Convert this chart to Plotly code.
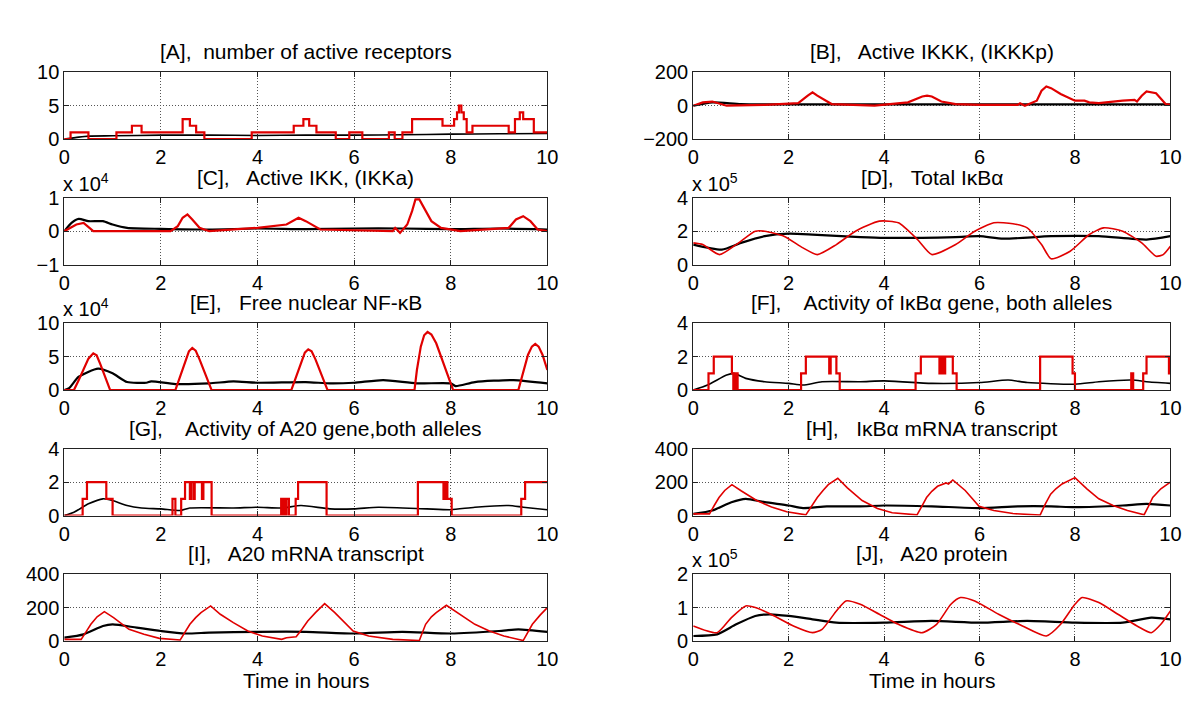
import plotly.graph_objects as go

# ---------------- data ----------------
# [A] number of active receptors
A_red_t = [0, 0.13, 0.5, 1.08, 1.4, 1.6, 2.45, 2.6, 2.73, 2.9, 3.88, 4.75, 4.95, 5.07, 5.22, 5.62, 5.9, 6.17,
           6.72, 6.84, 7.0, 7.2, 7.83, 8.07, 8.13, 8.17, 8.22, 8.27, 8.33, 8.45, 9.2, 9.33, 9.43, 9.5, 9.72, 10]
A_red_v = [0, 1, 0, 1, 2, 1, 3, 2, 1, 0, 1, 2, 3, 2, 1, 0, 1, 0,
           1, 0, 1, 3, 2, 3, 4, 5, 4, 3, 1, 2, 1, 3, 4, 3, 1, 1]
A_blk_t = [0, 0.3, 0.5, 1, 2, 3, 4, 5, 6, 7, 8, 9, 10]
A_blk_v = [0, 0.3, 0.45, 0.5, 0.6, 0.6, 0.55, 0.6, 0.6, 0.65, 0.75, 0.8, 0.85]

# [B] Active IKKK
B_red_t = [0, 0.2, 0.4, 0.7, 1.5, 2.2, 2.4, 2.5, 2.6, 2.9, 3.8, 4.5, 4.8, 4.9, 5.0, 5.2, 5.5, 6.0, 6.8, 6.85,
           6.95, 7.2, 7.3, 7.4, 7.5, 7.7, 8.0, 8.2, 8.3, 8.5, 9.0, 9.25, 9.3, 9.4, 9.5, 9.7, 9.9, 10]
B_red_v = [0, 20, 25, 0, 5, 15, 60, 80, 60, 10, 0, 20, 55, 60, 55, 25, 10, 5, 5, 15,
           0, 30, 90, 115, 105, 70, 30, 30, 20, 15, 30, 35, 25, 60, 85, 75, 10, 5]
B_blk_t = [0, 0.4, 1, 2, 3, 4, 5, 6, 7, 8, 9, 10]
B_blk_v = [0, 20, 10, 8, 8, 8, 8, 8, 8, 8, 8, 8]

# [C] Active IKK (x 10^4)
C_red_t = [0, 0.25, 0.4, 0.6, 2.2, 2.35, 2.45, 2.55, 2.65, 2.8, 3.0, 4.0, 4.6, 4.85, 5.0, 5.3, 6.8, 6.85, 6.95,
           7.1, 7.2, 7.27, 7.35, 7.45, 7.6, 7.8, 8.2, 9.2, 9.35, 9.5, 9.65, 9.8, 10]
C_red_v = [0, 0.2, 0.25, 0, 0, 0.15, 0.4, 0.5, 0.35, 0.1, 0, 0.1, 0.2, 0.4, 0.3, 0.05, 0, 0.1, -0.05,
           0.2, 0.6, 0.95, 0.95, 0.7, 0.3, 0.1, 0, 0.1, 0.35, 0.45, 0.3, 0.05, 0]
C_blk_t = [0, 0.15, 0.3, 0.5, 0.8, 1.0, 1.3, 2, 3, 4, 5, 6, 7, 8, 9, 10]
C_blk_v = [0, 0.25, 0.37, 0.3, 0.3, 0.2, 0.1, 0.07, 0.05, 0.08, 0.06, 0.08, 0.08, 0.06, 0.08, 0.05]

# [D] Total IkBa (x 10^5)
D_red_t = [0, 0.2, 0.55, 0.9, 1.3, 1.5, 1.9, 2.3, 2.6, 3.0, 3.4, 3.9, 4.3, 4.7, 5.0, 5.5, 5.9, 6.3, 6.7,
           7.0, 7.3, 7.5, 7.9, 8.3, 8.6, 9.0, 9.4, 9.7, 9.85, 10]
D_red_v = [1.3, 1.2, 0.6, 1.2, 2.0, 2.0, 1.7, 1.0, 0.6, 1.2, 2.0, 2.6, 2.5, 1.5, 0.6, 1.2, 2.0, 2.5, 2.45,
           2.2, 1.2, 0.35, 0.8, 1.8, 2.2, 2.0, 1.3, 0.5, 0.6, 1.1]
D_blk_t = [0, 0.6, 1.0, 1.5, 2.0, 2.5, 3.5, 4.0, 5.5, 6.0, 6.5, 7.5, 8.5, 9.5, 10]
D_blk_v = [1.2, 0.9, 1.3, 1.7, 1.85, 1.8, 1.65, 1.6, 1.65, 1.7, 1.55, 1.7, 1.7, 1.5, 1.7]

# [E] Free nuclear NF-kB (x 10^4)
E_red_t = [0, 0.2, 0.3, 0.4, 0.5, 0.6, 0.67, 0.75, 0.85, 0.95,
           2.3, 2.4, 2.5, 2.58, 2.65, 2.72, 2.8, 2.93, 3.05,
           4.7, 4.8, 4.9, 4.98, 5.05, 5.12, 5.2, 5.33, 5.45,
           7.25, 7.3, 7.38, 7.45, 7.52, 7.6, 7.7, 7.85, 8.05,
           9.4, 9.5, 9.6, 9.68, 9.75, 9.82, 9.9, 10]
E_red_v = [0, 0, 1.5, 3.2, 4.7, 5.5, 5.2, 3.8, 1.8, 0,
           0, 2.0, 4.3, 5.8, 6.3, 5.9, 4.6, 2.3, 0,
           0, 2.0, 4.3, 5.6, 6.1, 5.8, 4.6, 2.3, 0,
           0, 3.0, 6.5, 8.2, 8.7, 8.3, 7.0, 4.0, 0,
           0, 2.5, 5.3, 6.5, 6.9, 6.5, 5.3, 3.0]
E_blk_t = [0, 0.1, 0.3, 0.7, 1.0, 1.3, 1.7, 1.8, 2.3, 3.0, 3.5, 4.0, 5.0, 5.5, 6.0, 6.6, 7.3, 8.0, 8.1, 8.5, 9.3, 10]
E_blk_v = [0, 0.3, 2.0, 3.2, 2.5, 1.2, 1.1, 1.3, 0.9, 1.0, 1.3, 1.1, 1.2, 1.0, 1.1, 1.5, 1.0, 1.0, 0.6, 1.2, 1.5, 1.0]

# [F] Activity of IkBa gene
F_red_t = [0, 0.32, 0.43, 0.81, 0.84, 0.86, 0.88, 0.9, 0.93, 2.26, 2.36, 2.85, 2.88, 3.0, 3.07, 4.66, 4.77,
           5.16, 5.18, 5.2, 5.23, 5.25, 5.28, 5.44, 5.52, 7.27, 7.95, 8.0, 9.18, 9.22, 9.43, 9.5, 9.97, 10]
F_red_v = [0, 1, 2, 1, 0, 1, 0, 1, 0, 1, 2, 1, 2, 1, 0, 1, 2,
           1, 2, 1, 2, 1, 2, 1, 0, 2, 1, 0, 1, 0, 1, 2, 1, 1]
F_blk_t = [0, 0.3, 0.7, 0.85, 1.1, 1.5, 2.0, 2.3, 2.7, 3.5, 4.0, 5.0, 6.0, 6.6, 7.0, 8.0, 8.5, 9.2, 9.5, 10]
F_blk_v = [0, 0.3, 0.9, 1.0, 0.7, 0.5, 0.4, 0.3, 0.5, 0.5, 0.55, 0.4, 0.45, 0.6, 0.45, 0.35, 0.5, 0.6, 0.5, 0.4]

# [G] Activity of A20 gene
G_red_t = [0, 0.38, 0.47, 0.87, 1.0, 2.24, 2.3, 2.42, 2.5, 2.6, 2.63, 2.68, 2.7, 2.85, 2.88, 3.05, 4.49, 4.52,
           4.54, 4.57, 4.6, 4.65, 4.79, 4.84, 5.43, 7.32, 7.85, 7.87, 7.89, 7.91, 7.93, 8.02, 9.46, 9.54, 10]
G_red_v = [0, 1, 2, 1, 0, 1, 0, 1, 2, 1, 2, 1, 2, 1, 2, 0, 1, 0,
           1, 0, 1, 0, 1, 2, 0, 2, 1, 2, 1, 2, 1, 0, 1, 2, 2]
G_blk_t = [0, 0.2, 0.5, 0.8, 1.0, 1.3, 1.6, 2.0, 2.4, 2.6, 3.5, 4.0, 4.5, 4.9, 5.5, 6.0, 6.5, 7.5, 8.0, 8.5, 9.2, 9.5, 10]
G_blk_v = [0, 0.2, 0.7, 1.0, 0.9, 0.6, 0.45, 0.4, 0.3, 0.45, 0.45, 0.5, 0.45, 0.6, 0.4, 0.4, 0.5, 0.4, 0.35, 0.5, 0.6, 0.5, 0.35]

# [H] IkBa mRNA transcript
H_red_t = [0, 0.34, 0.44, 0.54, 0.66, 0.81, 1.01, 1.33, 1.64, 1.96, 2.36, 2.48, 2.6, 2.72, 2.83, 3.03, 3.23,
           3.54, 3.86, 4.17, 4.69, 4.79, 4.89, 5.0, 5.12, 5.3, 5.35, 5.44, 5.7, 5.99, 6.3, 6.7, 7.0, 7.27,
           7.38, 7.49, 7.6, 7.73, 8.0, 8.25, 8.5, 8.8, 9.1, 9.45, 9.54, 9.63, 9.8, 10]
H_red_v = [10, 10, 60, 108, 150, 185, 147, 90, 51, 23, 4, 55, 108, 150, 185, 223, 166,
           90, 42, 17, 4, 55, 108, 145, 175, 195, 189, 213, 150, 55, 30, 12, 5, 3,
           70, 128, 160, 189, 227, 160, 100, 60, 30, 5, 55, 108, 160, 200]
H_blk_t = [0, 0.4, 0.8, 1.1, 1.5, 2.0, 2.3, 2.8, 3.5, 4.0, 5.0, 6.0, 6.8, 7.5, 8.0, 9.0, 9.5, 10]
H_blk_v = [10, 30, 80, 100, 80, 60, 45, 55, 55, 60, 55, 45, 55, 55, 50, 60, 70, 60]

# [I] A20 mRNA transcript
I_red_t = [0, 0.35, 0.45, 0.55, 0.68, 0.83, 1.02, 1.34, 1.65, 1.97, 2.4, 2.5, 2.6, 2.72, 2.83, 3.03, 3.23,
           3.5, 3.8, 4.1, 4.5, 4.6, 4.8, 4.92, 5.04, 5.2, 5.39, 5.6, 5.98, 6.3, 6.8, 7.35, 7.42, 7.48,
           7.6, 7.7, 7.91, 8.2, 8.5, 8.8, 9.1, 9.5, 9.6, 9.69, 9.85, 10]
I_red_v = [10, 10, 55, 100, 145, 176, 140, 70, 40, 16, 6, 50, 100, 140, 170, 210, 160,
           110, 60, 30, 10, 20, 25, 70, 120, 170, 224, 170, 60, 30, 10, 3, 50, 100,
           145, 170, 214, 160, 100, 60, 30, 3, 50, 100, 155, 200]
I_blk_t = [0, 0.4, 0.8, 1.0, 1.5, 2.0, 2.5, 3.0, 4.0, 5.0, 6.0, 7.0, 8.0, 9.0, 9.4, 10]
I_blk_v = [20, 40, 90, 100, 80, 60, 45, 50, 55, 55, 45, 55, 45, 60, 70, 55]

# [J] A20 protein (x 10^5)
J_red_t = [0, 0.5, 0.8, 1.1, 1.3, 1.7, 2.1, 2.5, 2.7, 3.0, 3.2, 3.5, 3.9, 4.3, 4.8, 5.1, 5.4, 5.6, 5.9,
           6.4, 6.9, 7.4, 7.7, 8.0, 8.15, 8.5, 8.9, 9.3, 9.6, 9.8, 10]
J_red_v = [0.45, 0.25, 0.7, 1.05, 1.0, 0.75, 0.45, 0.25, 0.35, 0.9, 1.2, 1.1, 0.8, 0.5, 0.25, 0.5, 1.1, 1.3, 1.2,
           0.8, 0.45, 0.15, 0.5, 1.1, 1.3, 1.15, 0.8, 0.45, 0.25, 0.5, 0.9]
J_blk_t = [0, 0.5, 0.9, 1.3, 1.6, 2.0, 2.5, 3.0, 4.0, 5.0, 6.0, 7.0, 8.0, 9.0, 9.6, 10]
J_blk_v = [0.15, 0.2, 0.5, 0.75, 0.8, 0.75, 0.65, 0.55, 0.55, 0.6, 0.55, 0.6, 0.55, 0.55, 0.7, 0.65]

titles = [
    "[A],\u00a0 number of active receptors",
    "[B],\u00a0\u00a0 Active IKKK, (IKKKp)",
    "[C],\u00a0\u00a0 Active IKK, (IKKa)",
    "[D],\u00a0\u00a0 Total I\u03baB\u03b1",
    "[E],\u00a0\u00a0 Free nuclear NF-\u03baB",
    "[F],\u00a0\u00a0\u00a0 Activity of I\u03baB\u03b1 gene, both alleles",
    "[G],\u00a0\u00a0\u00a0 Activity of A20 gene,both alleles",
    "[H],\u00a0\u00a0 I\u03baB\u03b1 mRNA transcript",
    "[I],\u00a0\u00a0 A20 mRNA transcript",
    "[J],\u00a0\u00a0 A20 protein",
]
y_ranges = [[0, 10], [-200, 200], [-1, 1], [0, 4], [0, 10], [0, 4], [0, 4], [0, 400], [0, 400], [0, 2]]
y_ticks = [[0, 5, 10], [-200, 0, 200], [-1, 0, 1], [0, 2, 4], [0, 5, 10], [0, 2, 4], [0, 2, 4],
           [0, 200, 400], [0, 200, 400], [0, 1, 2]]
exponents = [None, None, 4, 5, 4, None, None, None, None, 5]
x_ticks = [0, 2, 4, 6, 8, 10]
x_label = "Time in hours"

series = [
    (A_blk_t, A_blk_v, A_red_t, A_red_v),
    (B_blk_t, B_blk_v, B_red_t, B_red_v),
    (C_blk_t, C_blk_v, C_red_t, C_red_v),
    (D_blk_t, D_blk_v, D_red_t, D_red_v),
    (E_blk_t, E_blk_v, E_red_t, E_red_v),
    (F_blk_t, F_blk_v, F_red_t, F_red_v),
    (G_blk_t, G_blk_v, G_red_t, G_red_v),
    (H_blk_t, H_blk_v, H_red_t, H_red_v),
    (I_blk_t, I_blk_v, I_red_t, I_red_v),
    (J_blk_t, J_blk_v, J_red_t, J_red_v),
]
red_shape = ["hv", "linear", "linear", "spline", "linear", "hv", "hv", "linear", "linear", "spline"]

# ---------------- layout geometry ----------------
W, H = 1200, 707
col_px = [(51, 541), (689, 1173)]
row_top = [55, 184.5, 314, 443.5, 573]
plot_h = 69
FONT = "Liberation Sans, Arial, sans-serif"
FS = 21
TFS = 20

fig = go.Figure()
layout = dict(
    width=W, height=H, margin=dict(l=0, r=0, t=0, b=0),
    paper_bgcolor="white", plot_bgcolor="white", showlegend=False,
    font=dict(family=FONT, size=FS, color="black"),
)
annotations = []

for k in range(10):
    row, col = k // 2, k % 2
    ax = "" if k == 0 else str(k + 1)
    x0, x1 = col_px[col]
    top = row_top[row]
    bot = top + plot_h
    xd = [x0 / W, x1 / W]
    yd = [1 - bot / H, 1 - top / H]
    common = dict(showline=True, linecolor="#222", linewidth=1, mirror="ticks",
                  ticks="inside", ticklen=5, tickcolor="#222",
                  showgrid=True, gridcolor="#555", griddash="1px,2px", gridwidth=1,
                  zeroline=False, tickfont=dict(family=FONT, size=TFS, color="black"))
    layout["xaxis" + ax] = dict(domain=xd, anchor="y" + ax, range=[0, 10], tickvals=x_ticks, **common)
    layout["yaxis" + ax] = dict(domain=yd, anchor="x" + ax, range=y_ranges[k], tickvals=y_ticks[k], **common)

    bt, bv, rt, rv = series[k]
    thin_red = k in (3, 7, 8, 9)
    step = red_shape[k] == "hv"
    fig.add_trace(go.Scatter(x=bt, y=bv, mode="lines", xaxis="x" + ax, yaxis="y" + ax,
                             line=dict(color="black", width=1.6 if (step or k == 0) else 2.2,
                                       shape="spline", smoothing=0.6)))
    rline = dict(color="#e00000", width=1.6 if thin_red else 2.2, shape=red_shape[k])
    if red_shape[k] == "spline":
        rline["smoothing"] = 0.6
    fig.add_trace(go.Scatter(x=rt, y=rv, mode="lines", xaxis="x" + ax, yaxis="y" + ax, line=rline))

    # title
    annotations.append(dict(text=titles[k], x=(x0 + x1) / 2 / W, y=1 - (top - 21) / H,
                            xref="paper", yref="paper", xanchor="center", yanchor="middle",
                            showarrow=False, font=dict(family=FONT, size=FS, color="black")))
    if exponents[k] is not None:
        annotations.append(dict(text="x 10<sup>%d</sup>" % exponents[k], x=(x0 - 3) / W, y=1 - (top - 1) / H,
                                xref="paper", yref="paper", xanchor="left", yanchor="bottom",
                                showarrow=False, font=dict(family=FONT, size=FS - 1, color="black")))
    if row == 4:
        annotations.append(dict(text=x_label, x=(x0 + x1) / 2 / W, y=1 - (bot + 41) / H,
                                xref="paper", yref="paper", xanchor="center", yanchor="middle",
                                showarrow=False, font=dict(family=FONT, size=FS, color="black")))

layout["annotations"] = annotations
fig.update_layout(**layout)
fig.write_html("out.html")
